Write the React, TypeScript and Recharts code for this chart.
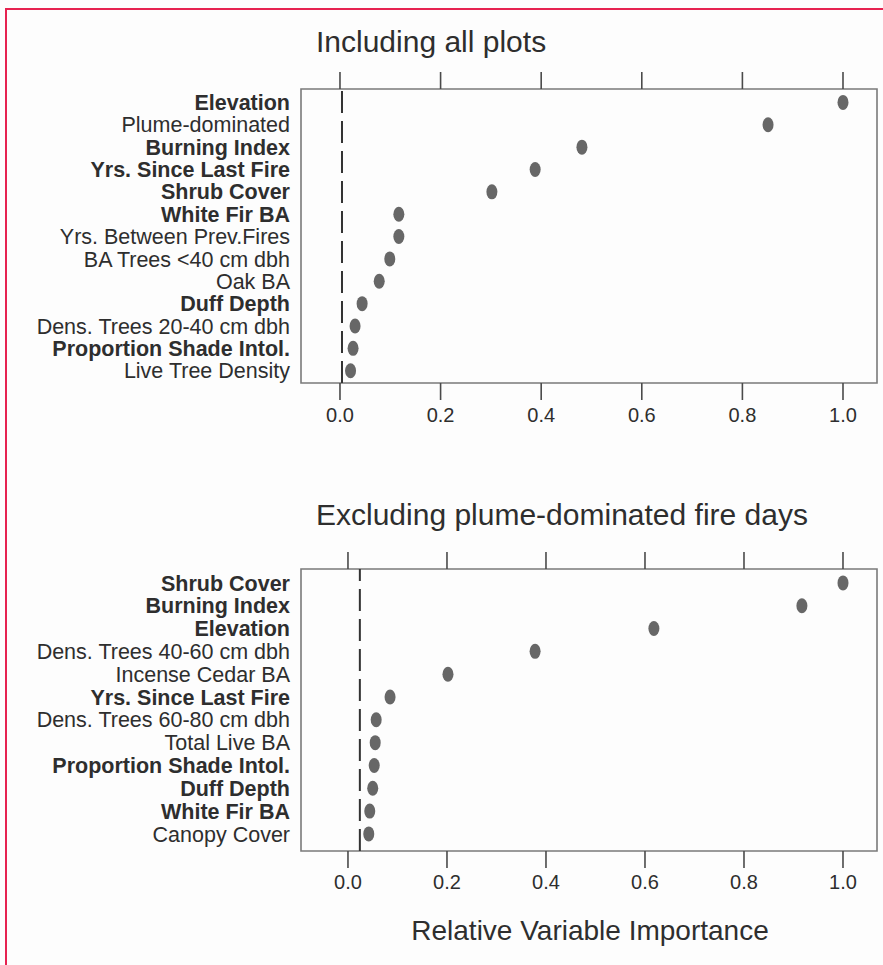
import React from "react";
import {
  ScatterChart,
  Scatter,
  XAxis,
  YAxis,
  ReferenceArea,
  ReferenceLine,
} from "recharts";

// ---------- data ----------
const xTicks = [0, 0.2, 0.4, 0.6, 0.8, 1.0];

const labelsAll = [
  "Elevation",
  "Plume-dominated",
  "Burning Index",
  "Yrs. Since Last Fire",
  "Shrub Cover",
  "White Fir BA",
  "Yrs. Between Prev.Fires",
  "BA Trees <40 cm dbh",
  "Oak BA",
  "Duff Depth",
  "Dens. Trees 20-40 cm dbh",
  "Proportion Shade Intol.",
  "Live Tree Density",
];
const boldAll = [1, 0, 1, 1, 1, 1, 0, 0, 0, 1, 0, 1, 0];
const valuesAll = [
  1.0, 0.851, 0.481, 0.388, 0.302, 0.117, 0.117, 0.099, 0.078, 0.044, 0.03,
  0.026, 0.021,
];
const thresholdAll = 0.004;

const labelsExcl = [
  "Shrub Cover",
  "Burning Index",
  "Elevation",
  "Dens. Trees 40-60 cm dbh",
  "Incense Cedar BA",
  "Yrs. Since Last Fire",
  "Dens. Trees 60-80 cm dbh",
  "Total Live BA",
  "Proportion Shade Intol.",
  "Duff Depth",
  "White Fir BA",
  "Canopy Cover",
];
const boldExcl = [1, 1, 1, 0, 0, 1, 0, 0, 1, 1, 1, 0];
const valuesExcl = [
  1.0, 0.917, 0.618, 0.378, 0.202, 0.085, 0.057, 0.055, 0.053, 0.05, 0.044,
  0.042,
];
const thresholdExcl = 0.024;

const titleAll = "Including all plots";
const titleExcl = "Excluding plume-dominated fire days";
const xTitle = "Relative Variable Importance";

// ---------- styles ----------
const FONT = "'Liberation Sans', Arial, Helvetica, sans-serif";
const TEXT = "#2e2e2e";
const BOX = "#7a7a7a";
const TICK = "#4a4a4a";
const DOT = "#676767";

type PanelProps = {
  labels: string[];
  bold: number[];
  values: number[];
  threshold: number;
  xDomain: [number, number];
  yDomain: [number, number];
  top: number;
  height: number;
  boxTop: number;
  boxBottom: number;
  labelMargin: number;
};

const Dot = (props: any) => {
  const { cx, cy } = props;
  if (cx == null || cy == null) return null;
  return <ellipse cx={cx} cy={cy} rx={5.5} ry={7.5} fill={DOT} />;
};

const NoShape = () => <g />;
const EmptyTick = () => <g />;

function Panel(p: PanelProps) {
  const data = p.values.map((v, i) => ({ x: v, y: i }));
  const idx = p.labels.map((_, i) => i);
  const topAxisH = 17;
  const bottomAxisH = 50;
  const LabelTick = (tp: any) => {
    const i = tp.payload.value as number;
    return (
      <text
        x={tp.x}
        y={tp.y}
        dy="0.355em"
        textAnchor="end"
        fontFamily={FONT}
        fontSize={21.5}
        fontWeight={p.bold[i] ? "bold" : "normal"}
        fill={TEXT}
      >
        {p.labels[i]}
      </text>
    );
  };
  return (
    <div style={{ position: "absolute", left: 0, top: p.top }}>
      <ScatterChart
        width={883}
        height={p.height}
        margin={{
          top: p.boxTop - topAxisH,
          right: 6,
          bottom: p.height - p.boxBottom - bottomAxisH,
          left: 11,
        }}
      >
        <XAxis
          xAxisId="top"
          orientation="top"
          type="number"
          dataKey="x"
          domain={p.xDomain}
          ticks={xTicks}
          allowDataOverflow
          height={topAxisH}
          tickSize={17}
          tick={EmptyTick}
          axisLine={false}
          tickLine={{ stroke: TICK, strokeWidth: 1.6 }}
        />
        <XAxis
          type="number"
          dataKey="x"
          domain={p.xDomain}
          ticks={xTicks}
          allowDataOverflow
          height={bottomAxisH}
          tickSize={17}
          tickMargin={p.labelMargin}
          axisLine={false}
          tickLine={{ stroke: TICK, strokeWidth: 1.6 }}
          tickFormatter={(v: number) => v.toFixed(1)}
          tick={{ fill: TEXT, fontSize: 20, fontFamily: FONT }}
        />
        <YAxis
          type="number"
          dataKey="y"
          domain={p.yDomain}
          reversed
          ticks={idx}
          interval={0}
          allowDataOverflow
          width={290}
          tickSize={0}
          tickMargin={11}
          axisLine={false}
          tickLine={false}
          tick={<LabelTick />}
        />
        <ReferenceArea
          x1={p.xDomain[0]}
          x2={p.xDomain[1]}
          y1={p.yDomain[0]}
          y2={p.yDomain[1]}
          fill="none"
          fillOpacity={0}
          stroke={BOX}
          strokeWidth={1.6}
          ifOverflow="visible"
        />
        <ReferenceLine
          x={p.threshold}
          stroke="#333"
          strokeWidth={2}
          strokeDasharray="22 8"
        />
        <Scatter
          xAxisId="top"
          data={data}
          isAnimationActive={false}
          shape={<NoShape />}
          legendType="none"
        />
        <Scatter data={data} isAnimationActive={false} shape={<Dot />} />
      </ScatterChart>
    </div>
  );
}

export default function App() {
  return (
    <div
      style={{
        position: "absolute",
        left: 0,
        top: 0,
        width: 883,
        height: 965,
        overflow: "hidden",
        background: "#fdfdfd",
      }}
    >
      <div
        style={{
          position: "absolute",
          left: 5,
          top: 8,
          width: 900,
          height: 1000,
          border: "2.5px solid #e62250",
          boxSizing: "border-box",
        }}
      />
      <Panel
        labels={labelsAll}
        bold={boldAll}
        values={valuesAll}
        threshold={thresholdAll}
        xDomain={[-0.0775, 1.0676]}
        yDomain={[-0.6, 12.55]}
        top={0}
        height={450}
        boxTop={89}
        boxBottom={383}
        labelMargin={8}
      />
      <Panel
        labels={labelsExcl}
        bold={boldExcl}
        values={valuesExcl}
        threshold={thresholdExcl}
        xDomain={[-0.0949, 1.0687]}
        yDomain={[-0.61, 11.75]}
        top={480}
        height={440}
        boxTop={89}
        boxBottom={371}
        labelMargin={7}
      />
      <svg
        width={883}
        height={965}
        style={{ position: "absolute", left: 0, top: 0, pointerEvents: "none" }}
      >
        <text x={316} y={52} fontFamily={FONT} fontSize={30} fill={TEXT}>
          {titleAll}
        </text>
        <text x={316} y={525} fontFamily={FONT} fontSize={30} fill={TEXT}>
          {titleExcl}
        </text>
        <text
          x={590}
          y={940}
          textAnchor="middle"
          fontFamily={FONT}
          fontSize={28}
          fill={TEXT}
        >
          {xTitle}
        </text>
      </svg>
    </div>
  );
}
